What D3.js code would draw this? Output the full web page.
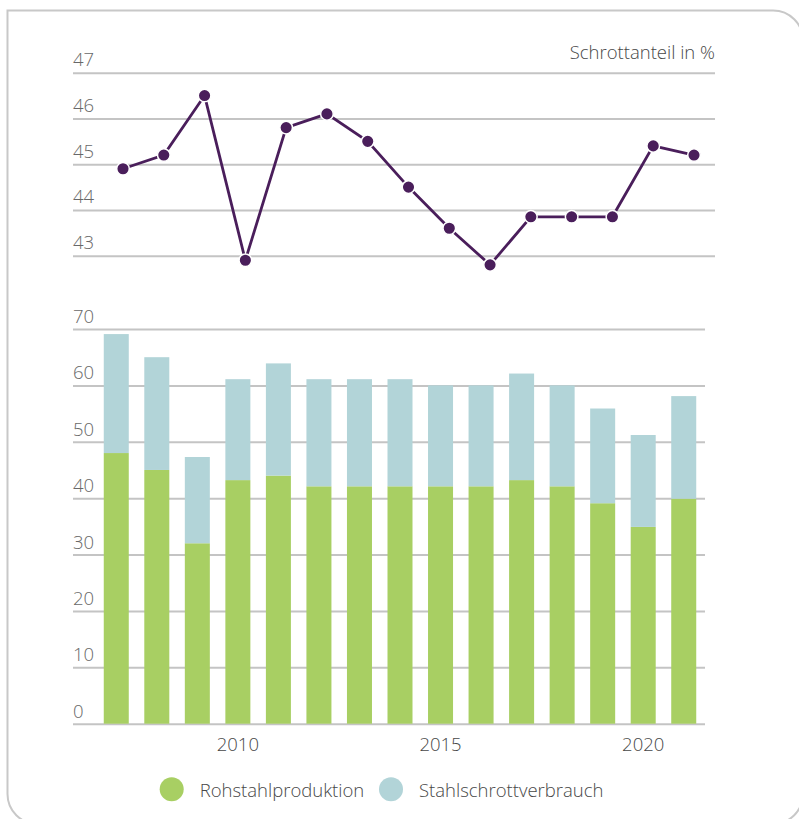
<!DOCTYPE html>
<html>
<head>
<meta charset="utf-8">
<script src="https://cdn.jsdelivr.net/npm/d3@7"></script>
<style>
  body { margin: 0; background: #fff; }
  svg text { font-family: 'Open Sans', sans-serif; font-weight: 300; }
</style>
</head>
<body>
<svg id="chart" width="799" height="819"></svg>
<script>
const years = [2007, 2008, 2009, 2010, 2011, 2012, 2013, 2014, 2015, 2016, 2017, 2018, 2019, 2020, 2021];
const scrapShare = [44.9, 45.2, 46.5, 42.9, 45.8, 46.1, 45.5, 44.5, 43.6, 42.8, 43.85, 43.85, 43.85, 45.4, 45.2];
const rohstahl = [48, 45, 32, 43.2, 44, 42.1, 42.1, 42.1, 42.1, 42.1, 43.2, 42.1, 39.1, 34.9, 39.9];
const schrott = [21.1, 20, 15.3, 17.9, 19.9, 19, 19, 19, 17.9, 17.9, 18.9, 17.9, 16.8, 16.3, 18.2];
const shareTicks = [43, 44, 45, 46, 47];
const barTicks = [0, 10, 20, 30, 40, 50, 60, 70];
const yearLabels = [2010, 2015, 2020];
const legendItems = ['Rohstahlproduktion', 'Stahlschrottverbrauch'];

const COLORS = {
  rohstahl: '#a8cf63',
  schrott: '#b2d4d8',
  line: '#4a1e5b',
  grid: '#c4c4c4',
  frame: '#c8c8c8',
  tick: '#686868',
  text: '#474747'
};

const svg = d3.select('#chart');

// frame: square top-left corner, the others rounded
const fx0 = 7.5, fy0 = 10.5, fx1 = 803, fy1 = 824, r = 30;
svg.append('path')
  .attr('d', `M${fx0},${fy0} H${fx1 - r} A${r},${r} 0 0 1 ${fx1},${fy0 + r} V${fy1 - r} A${r},${r} 0 0 1 ${fx1 - r},${fy1} H${fx0 + r} A${r},${r} 0 0 1 ${fx0},${fy1 - r} Z`)
  .attr('fill', 'none')
  .attr('stroke', COLORS.frame)
  .attr('stroke-width', 2);

// top chart: scrap share line
const xLine = d3.scalePoint()
  .domain(years)
  .range([123, 694]);

const yLine = d3.scaleLinear()
  .domain([43, 47])
  .range([255.7, 72.7]);

const topAxis = svg.append('g')
  .attr('class', 'axis axis-share')
  .attr('transform', 'translate(73,0)')
  .call(d3.axisLeft(yLine).tickValues(shareTicks).tickSize(-642).tickFormat(d3.format('d')));

topAxis.select('.domain').remove();
topAxis.selectAll('.tick line')
  .attr('stroke', COLORS.grid)
  .attr('stroke-width', 2);
topAxis.selectAll('.tick text')
  .attr('x', 0)
  .attr('dy', -7)
  .attr('text-anchor', 'start')
  .attr('fill', COLORS.tick)
  .style('font-size', '18.5px');

svg.append('text')
  .attr('x', 715)
  .attr('y', 58.5)
  .attr('text-anchor', 'end')
  .attr('fill', COLORS.text)
  .style('font-size', '18.5px')
  .text('Schrottanteil in %');

const line = d3.line()
  .x((d, i) => xLine(years[i]))
  .y(d => yLine(d));

svg.append('path')
  .datum(scrapShare)
  .attr('fill', 'none')
  .attr('stroke', COLORS.line)
  .attr('stroke-width', 2.8)
  .attr('d', line);

svg.append('g')
  .selectAll('circle')
  .data(scrapShare)
  .enter()
  .append('circle')
  .attr('cx', (d, i) => xLine(years[i]))
  .attr('cy', d => yLine(d))
  .attr('r', 6.3)
  .attr('fill', COLORS.line)
  .attr('stroke', '#fff')
  .attr('stroke-width', 1.5);

// bottom chart: stacked bars
const xBar = d3.scaleBand()
  .domain(years)
  .range([96, 704])
  .paddingInner(0.383)
  .paddingOuter(0.1915);

const yBar = d3.scaleLinear()
  .domain([0, 70])
  .range([723.7, 329]);

const barAxis = svg.append('g')
  .attr('class', 'axis axis-bars')
  .attr('transform', 'translate(73,0)')
  .call(d3.axisLeft(yBar).tickValues(barTicks).tickSize(-632).tickFormat(d3.format('d')));

barAxis.select('.domain').remove();
barAxis.selectAll('.tick line')
  .attr('stroke', COLORS.grid)
  .attr('stroke-width', 2);
barAxis.selectAll('.tick text')
  .attr('x', 0)
  .attr('dy', -6.5)
  .attr('text-anchor', 'start')
  .attr('fill', COLORS.tick)
  .style('font-size', '18.5px');

const table = years.map((y, i) => ({ year: y, rohstahl: rohstahl[i], schrott: schrott[i] }));
const stackedData = d3.stack().keys(['rohstahl', 'schrott'])(table);

svg.append('g')
  .attr('class', 'bars')
  .selectAll('g')
  .data(stackedData)
  .enter()
  .append('g')
  .attr('fill', d => COLORS[d.key])
  .selectAll('rect')
  .data(d => d)
  .enter()
  .append('rect')
  .attr('x', d => xBar(d.data.year))
  .attr('width', xBar.bandwidth())
  .attr('y', d => yBar(d[1]))
  .attr('height', d => yBar(d[0]) - yBar(d[1]));

const xAxis = svg.append('g')
  .attr('class', 'axis axis-x')
  .attr('transform', 'translate(0,723.7)')
  .call(d3.axisBottom(xBar).tickValues(yearLabels).tickSize(0).tickPadding(14));

xAxis.select('.domain').remove();
xAxis.selectAll('.tick text')
  .attr('dy', '0.71em')
  .attr('fill', COLORS.text)
  .style('font-size', '18.5px');

// legend
const legend = svg.append('g')
  .attr('class', 'legend')
  .selectAll('g')
  .data(legendItems)
  .enter()
  .append('g')
  .attr('transform', (d, i) => 'translate(' + [171.7, 391][i] + ',789.3)');

legend.append('circle')
  .attr('r', 12)
  .attr('fill', (d, i) => i === 0 ? COLORS.rohstahl : COLORS.schrott);

legend.append('text')
  .attr('x', 28)
  .attr('y', 7.5)
  .attr('fill', COLORS.text)
  .style('font-size', '18.5px')
  .text(d => d);
</script>
</body>
</html>
